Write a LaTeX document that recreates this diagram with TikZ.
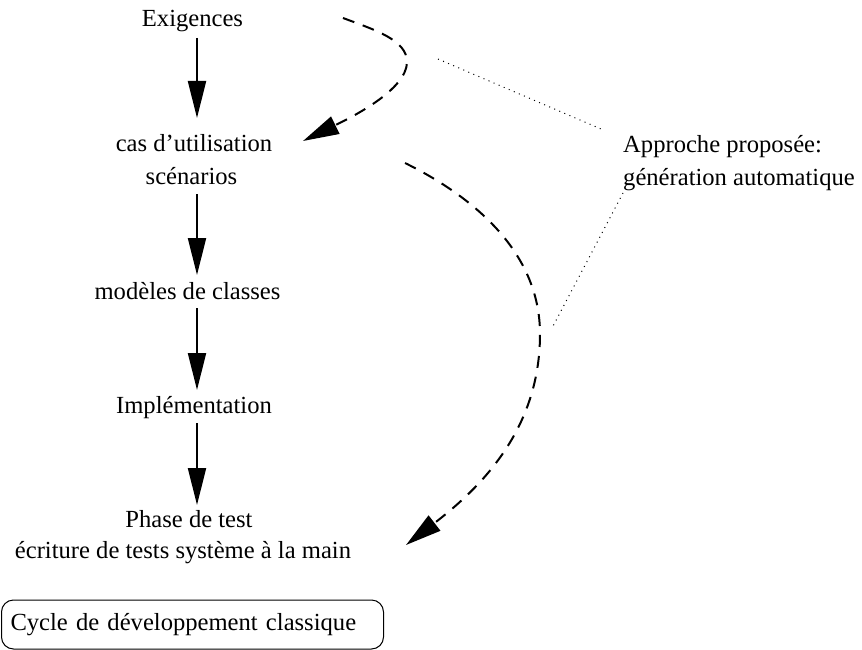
\documentclass[tikz,border=0pt]{standalone}
\usepackage{fontspec}
\setmainfont{Liberation Serif}
\usetikzlibrary{arrows.meta}

\begin{document}
\begin{tikzpicture}[x=1pt,y=-1pt,
  lbl/.style={inner sep=0pt,anchor=base,font=\fontsize{24.6}{31}\selectfont},
  lblw/.style={inner sep=0pt,anchor=base west,font=\fontsize{24.6}{31}\selectfont},
  flow/.style={line width=2pt,-{Triangle[length=37pt,width=18pt]}},
  gen/.style={line width=2pt,dash pattern=on 12pt off 9pt,
              -{Triangle[length=36pt,width=19pt]}},
  note/.style={line width=1pt,dash pattern=on 1pt off 4.5pt},
  framebox/.style={draw,line width=1pt,rounded corners=12pt,
              font=\fontsize{24.6}{31}\selectfont,
              inner xsep=9pt,inner ysep=0pt,text width=364pt,align=left,
              minimum height=49pt,anchor=west}]
\useasboundingbox (0,0) rectangle (862,650);

% stages of the classic cycle
\node[lbl] (exig)  at (192.5,27)  {Exigences};
\node[lbl] (cas)   at (194,152)   {cas d’utilisation};
\node[lbl] (scen)  at (191.5,184) {scénarios};
\node[lbl] (mod)   at (187.5,299) {modèles de classes};
\node[lbl] (impl)  at (194,413)   {Implémentation};
\node[lbl] (phase) at (189,527)   {Phase de test};
\node[lbl] (ecr)   at (183,558)   {écriture de tests système à la main};

% proposed approach
\node[lblw] (appr) at (623,153) {Approche proposée:};
\node[lblw] (gena) at (623,185) {génération automatique};

% caption box
\node[framebox] (cycle) at (1,624.5) {Cycle de développement classique};

% arrow end points on the stage column
\coordinate (a1s) at (197,38);  \coordinate (a1e) at (197,118);
\coordinate (a2s) at (197,194); \coordinate (a2e) at (197,275);
\coordinate (a3s) at (197,308); \coordinate (a3e) at (197,390);
\coordinate (a4s) at (197,423); \coordinate (a4e) at (197,505);

\draw[flow] (a1s) -- (a1e);
\draw[flow] (a2s) -- (a2e);
\draw[flow] (a3s) -- (a3e);
\draw[flow] (a4s) -- (a4e);

% generation arrows
\coordinate (g1s) at (343,18);
\coordinate (g1m) at (407,62);
\coordinate (g1e) at (303,141);
\draw[gen] (g1s) .. controls (375,30) and (407,40) .. (g1m)
                 .. controls (407,90) and (350,118) .. (g1e);

\coordinate (g2s) at (405,163);
\coordinate (g2m) at (540,334);
\coordinate (g2e) at (406,545);
\draw[gen] (g2s) .. controls (470,195) and (540,250) .. (g2m)
                 .. controls (540,430) and (480,488) .. (g2e);

% dotted leaders from the note to the arrows
\coordinate (d1s) at (438,59);
\coordinate (d1e) at (601,129);
\coordinate (d2s) at (623,193);
\coordinate (d2e) at (552,328);
\draw[note] (d1s) -- (d1e);
\draw[note] (d2s) -- (d2e);
\end{tikzpicture}
\end{document}
